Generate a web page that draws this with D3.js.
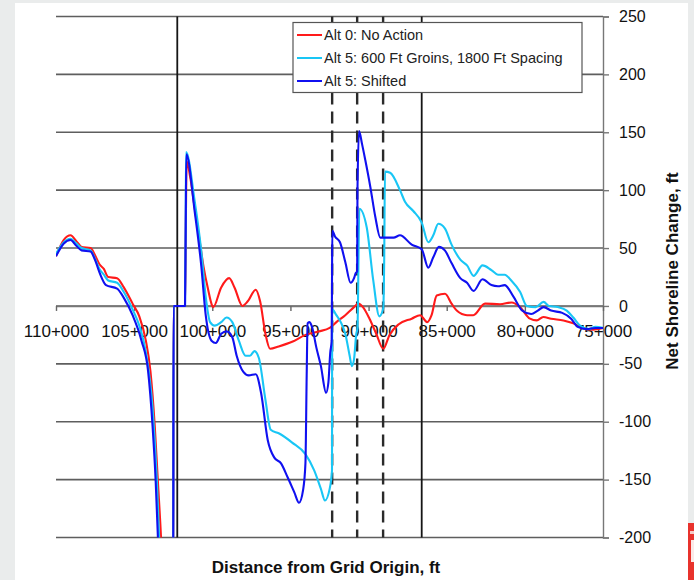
<!DOCTYPE html>
<html>
<head>
<meta charset="utf-8">
<script src="https://cdn.jsdelivr.net/npm/d3@7"></script>
<style>
  html, body { margin: 0; padding: 0; background: #eaecec; }
  svg { display: block; }
  text { font-family: "Liberation Sans", Arial, sans-serif; }
</style>
</head>
<body>
<svg id="chart" width="694" height="580"></svg>
<script>
// Stations (ft from grid origin) and net shoreline change (ft) per alternative
const noActionStation = [110000,109500,109070,108700,108360,107790,107510,107220,106940,106660,106090,105660,105100,104670,104250,103960,103680,103480,103280,103100,102500,102480,101745,101700,101640,101410,101130,100850,100560,100280,100000,99940,99430,98920,98580,98070,97730,97220,96940,96600,96300,95750,94890,94040,93190,92490,92060,91490,90930,90650,90360,89940,89510,89060,88660,88090,87240,86700,86250,85970,85640,85110,84690,84360,83700,83300,82550,81590,80840,80310,79670,79240,78820,78320,77530,76900,76260,75620,75000];
const noActionValue   = [43,57,61,56,51,50,44,36,32,25,24,16,2,-9,-30,-56,-104,-152,-200,-260,-260,0,0,60,125,111,85,60,34,15,0,-1,16,24,16,0,4,14,4,-24,-37,-35,-31,-25,-22,-19,-14,-8,-1,2,-1,-11,-24,-37,-25,-16,-11,-8,-14,-8,9,10.5,2,-4,-8,-8,2,1.5,3,-1,-11,-12.5,-9.5,-11,-12.5,-15,-19.5,-20.5,-19];

const groinStation = [110000,109500,109070,108700,108360,107790,107510,107220,106940,106660,106090,105660,105100,104670,104250,103820,103540,103400,103250,102500,102480,101745,101700,101680,101130,100700,100420,100140,99850,99430,99090,98720,98300,97870,97590,97300,97020,96600,96260,95750,94890,94040,93480,93050,92790,92490,92340,92330,92060,91780,91490,91210,91070,90930,90785,90720,90700,90590,90120,89700,89310,89060,89000,88950,88620,87990,87670,87140,86600,86180,85860,85540,85120,84690,84130,83700,83280,82710,82140,81720,81290,80870,80300,79880,79310,78800,78460,77890,77320,76900,76470,75910,75480,75000];
const groinValue   = [45,55,58,54,50,48,41,32,27,22,20,12,-3,-17,-40,-88,-152,-200,-260,-260,0,0,70,133,91,47,8,-14,-17,-14,-10,-14,-30,-43,-43,-39,-45,-81,-107,-110,-118,-128,-142,-158,-168,-158,-142,-3,-8,-14,-24,-43,-52,-46,-24,-20,-14,84,68,22,-9,-2,40,116,115,100,90,82,72,55,61,71,67,53,40,35,26,35,31,27,27,22,12,0,-1,3.5,0,-1,-4,-10,-17,-20,-18,-19];

const shiftedStation = [110000,109500,109070,108700,108360,107790,107510,107220,106800,106090,105660,105100,104530,104110,103820,103620,103480,103300,102500,102480,101745,101700,101660,101130,100700,100420,100050,99770,99430,99090,98720,98440,98010,97670,97220,96880,96450,96030,95600,95180,94750,94450,94190,94040,93960,93900,93800,93620,93340,93050,92720,92570,92450,92360,92340,92320,92150,91830,91490,91150,90930,90830,90730,90710,90610,90420,90210,89890,89570,89250,88400,87990,87240,86600,86180,85860,85500,85120,84690,84130,83700,83280,82710,82140,81720,81290,80730,80160,79590,79170,78800,78320,77610,77040,76620,76050,75480,75000];
const shiftedValue   = [43,54,57,52,48,47,40,29,18,15,7,-8,-30,-56,-104,-152,-200,-260,-260,0,0,70,131,82,34,-8,-30,-32,-24,-22,-27,-43,-57,-60,-59,-75,-116,-131,-136,-148,-161,-170,-159,-136,-60,-15,-14,-18,-36,-52,-75,-66,-40,-30,20,65,60,55,38,20,24,28,30,100,151,140,126,103,77,59,59,61,53,49,33,42,51,48,37,24,20,13,23,18,17,18,8,-4,-7,-4,-1,-4,-6,-11,-18,-20,-19,-19];

const seriesNames = ["Alt 0: No Action", "Alt 5: 600 Ft Groins, 1800 Ft Spacing", "Alt 5: Shifted"];
const seriesColors = ["#ff1a1a", "#19c6f5", "#1010f0"];

const xTicks = [110000, 105000, 100000, 95000, 90000, 85000, 80000, 75000];
const yTicks = [-200, -150, -100, -50, 0, 50, 100, 150, 200, 250];
const solidMarkers = [102240, 86600];        // solid reference lines
const dashedMarkers = [92330, 90730, 89070]; // groin locations

const svg = d3.select("#chart");

// page / panel backdrop
svg.append("rect").attr("x", 0).attr("y", 0).attr("width", 694).attr("height", 580).attr("fill", "#eaecec");
svg.append("rect").attr("x", 15).attr("y", 3).attr("width", 673).attr("height", 577).attr("fill", "#ffffff");
// corner logo fragment
svg.append("rect").attr("x", 688).attr("y", 523).attr("width", 6).attr("height", 57).attr("fill", "#e8322c");
svg.append("rect").attr("x", 690).attr("y", 531).attr("width", 4).attr("height", 3).attr("fill", "#f6c9c6");
svg.append("rect").attr("x", 691).attr("y", 540).attr("width", 3).attr("height", 22).attr("fill", "#fbe9e8");

const pL = 56, pR = 603, pT = 16.5, pB = 537.5;
const x = d3.scaleLinear().domain([110000, 75000]).range([pL, pR]);
const y = d3.scaleLinear().domain([-200, 250]).range([pB, pT]);

// horizontal gridlines
svg.append("g").selectAll("line").data(yTicks).join("line")
  .attr("x1", pL).attr("x2", pR)
  .attr("y1", d => y(d)).attr("y2", d => y(d))
  .attr("stroke", "#5e5e5e").attr("stroke-width", 1.6);

// right value axis (plain hyphen for negatives)
const yAxis = d3.axisRight(y).tickValues(yTicks).tickSize(6).tickPadding(10).tickFormat(d => String(d));
const gy = svg.append("g").attr("transform", `translate(${pR},0)`).call(yAxis);
gy.select(".domain").attr("stroke", "#777").attr("stroke-width", 1.4);
gy.selectAll(".tick line").attr("stroke", "#777").attr("stroke-width", 1.4);
gy.selectAll(".tick text").attr("font-size", 16).attr("fill", "#111")
  .attr("font-family", "'Liberation Sans', Arial, sans-serif");

// category axis along zero line
const fmt = d => `${Math.floor(d / 1000)}+${String(d % 1000).padStart(3, "0")}`;
const xAxis = d3.axisBottom(x).tickValues(xTicks).tickSize(5).tickPadding(14).tickFormat(fmt);
const gx = svg.append("g").attr("transform", `translate(0,${y(0)})`).call(xAxis);
gx.select(".domain").attr("stroke", "#777").attr("stroke-width", 1.4).attr("d", `M${pL},0.5H${pR}`);
gx.selectAll(".tick line").attr("stroke", "#666").attr("stroke-width", 1.4);
gx.selectAll(".tick text").attr("font-size", 17).attr("fill", "#111")
  .attr("font-family", "'Liberation Sans', Arial, sans-serif");

// structure and groin markers
svg.append("g").selectAll("line").data(solidMarkers).join("line")
  .attr("x1", d => x(d)).attr("x2", d => x(d)).attr("y1", pT).attr("y2", pB)
  .attr("stroke", "#151515").attr("stroke-width", 1.8);
svg.append("g").selectAll("line").data(dashedMarkers).join("line")
  .attr("x1", d => x(d)).attr("x2", d => x(d)).attr("y1", pT).attr("y2", pB)
  .attr("stroke", "#2a2a2a").attr("stroke-width", 2.4).attr("stroke-dasharray", "12,7");

// series
svg.append("clipPath").attr("id", "plotClip").append("rect")
  .attr("x", pL).attr("y", pT).attr("width", pR - pL).attr("height", pB - pT);

const series = [
  { st: noActionStation, v: noActionValue },
  { st: groinStation, v: groinValue },
  { st: shiftedStation, v: shiftedValue }
];
const line = d3.line().x(d => x(d[0])).y(d => y(d[1])).curve(d3.curveMonotoneX);
const gLines = svg.append("g").attr("clip-path", "url(#plotClip)");
series.forEach((s, i) => {
  const pts = s.st.map((st, k) => [st, s.v[k]]);
  gLines.append("path").datum(pts).attr("d", line)
    .attr("fill", "none").attr("stroke", seriesColors[i]).attr("stroke-width", 2.1)
    .attr("stroke-linejoin", "round");
});

// axis titles
svg.append("text").attr("x", 326).attr("y", 573).attr("text-anchor", "middle")
  .attr("font-size", 17).attr("font-weight", "bold").attr("fill", "#111")
  .text("Distance from Grid Origin, ft");
svg.append("text").attr("transform", "translate(678,271) rotate(-90)").attr("text-anchor", "middle")
  .attr("font-size", 17).attr("font-weight", "bold").attr("fill", "#111")
  .text("Net Shoreline Change, ft");

// legend
const lg = svg.append("g").attr("transform", "translate(293,22.5)");
lg.append("rect").attr("x", 0).attr("y", 0).attr("width", 289).attr("height", 70)
  .attr("fill", "#fff").attr("stroke", "#555").attr("stroke-width", 1.2);
seriesNames.forEach((name, i) => {
  const cy = 12.5 + i * 23;
  lg.append("line").attr("x1", 4).attr("x2", 29).attr("y1", cy).attr("y2", cy)
    .attr("stroke", seriesColors[i]).attr("stroke-width", 2);
  lg.append("text").attr("x", 31).attr("y", cy + 5).attr("font-size", 14.5).attr("fill", "#222").text(name);
});
</script>
</body>
</html>
